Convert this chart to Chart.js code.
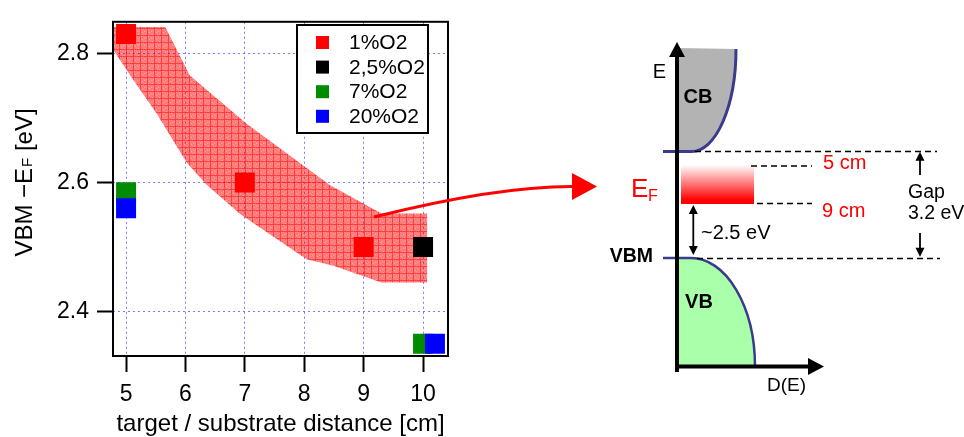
<!DOCTYPE html>
<html>
<head>
<meta charset="utf-8">
<script src="https://cdn.jsdelivr.net/npm/chart.js@4.4.0/dist/chart.umd.min.js"></script>
<style>
  html, body { margin: 0; padding: 0; background: #fff; }
</style>
</head>
<body>
<canvas id="vbm" width="964" height="437"></canvas>
<script>
// VBM - EF [eV] against target/substrate distance [cm], one series per O2 content
const seriesNames = ["1%O2", "2,5%O2", "7%O2", "20%O2"];
const seriesColors = ["#ff0000", "#000000", "#008c00", "#0000ff"];
const dist1 = [5, 7, 9];
const vbm1 = [2.83, 2.60, 2.50];
const dist25 = [10];
const vbm25 = [2.50];
const dist7 = [5, 10];
const vbm7 = [2.585, 2.35];
const dist20 = [5, 10.2];
const vbm20 = [2.56, 2.35];

// trend band, upper and lower edge
const bandUpperX = [4.78, 5.66, 6.07, 7.03, 8.43, 9.30, 10.07];
const bandUpperY = [2.841, 2.841, 2.766, 2.691, 2.596, 2.552, 2.552];
const bandLowerX = [4.78, 5.12, 5.52, 6.02, 6.36, 6.92, 7.48, 8.04, 8.49, 9.30, 10.07];
const bandLowerY = [2.806, 2.759, 2.706, 2.631, 2.596, 2.551, 2.516, 2.481, 2.471, 2.445, 2.445];

const xTicks = [5, 6, 7, 8, 9, 10];
const yTicks = [2.4, 2.6, 2.8];

const FONT = "'Liberation Sans', Arial, sans-serif";

function pts(xs, ys) {
  return xs.map((x, i) => ({ x: x, y: ys[i] }));
}

// pink cross-hatch for the band
function bandPattern() {
  const c = document.createElement('canvas');
  c.width = 7; c.height = 7;
  const g = c.getContext('2d');
  g.fillStyle = 'rgba(255,0,0,0.5)';
  g.fillRect(0, 0, 7, 7);
  for (let i = 0; i < 7; i++) {
    for (let j = 0; j < 7; j++) {
      if ((i * 3 + j * 5) % 4 === 0) { g.fillStyle = 'rgba(255,0,0,0.12)'; g.fillRect(i, j, 1, 1); }
      if ((i * 5 + j * 3) % 7 === 1) { g.fillStyle = 'rgba(255,255,255,0.25)'; g.fillRect(i, j, 1, 1); }
    }
  }
  g.fillStyle = 'rgba(255,0,0,0.5)';
  g.fillRect(0, 0, 7, 1);
  g.fillRect(0, 1, 1, 6);
  return g.createPattern(c, 'repeat');
}

function arrowHead(ctx, tx, ty, dx, dy, len, half) {
  // tip at (tx,ty), pointing along (dx,dy)
  const px = -dy, py = dx;
  ctx.beginPath();
  ctx.moveTo(tx, ty);
  ctx.lineTo(tx - dx * len + px * half, ty - dy * len + py * half);
  ctx.lineTo(tx - dx * len - px * half, ty - dy * len - py * half);
  ctx.closePath();
  ctx.fill();
}

function dashed(ctx, x1, x2, y) {
  ctx.save();
  ctx.strokeStyle = '#000';
  ctx.lineWidth = 1.6;
  ctx.setLineDash([6, 4]);
  ctx.beginPath();
  ctx.moveTo(x1, y); ctx.lineTo(x2, y);
  ctx.stroke();
  ctx.restore();
}

const extras = {
  id: 'extras',
  afterDatasetsDraw(chart) {
    const ctx = chart.ctx;
    const a = chart.chartArea;
    ctx.save();
    // frame
    ctx.strokeStyle = '#000';
    ctx.lineWidth = 2;
    ctx.strokeRect(a.left, a.top, a.right - a.left, a.bottom - a.top);

    // legend
    ctx.fillStyle = '#fff';
    ctx.fillRect(297, 25, 131, 108);
    ctx.strokeRect(297, 25, 131, 108);
    ctx.font = '21px ' + FONT;
    ctx.textBaseline = 'middle';
    ctx.textAlign = 'left';
    seriesNames.forEach((name, i) => {
      const y = 42.5 + i * 24.6;
      ctx.fillStyle = seriesColors[i];
      ctx.fillRect(316, y - 6.5, 13, 13);
      ctx.fillStyle = '#000';
      ctx.fillText(name, 349, y + 1);
    });

    // y axis title with subscript F
    ctx.save();
    ctx.translate(32, 183);
    ctx.rotate(-Math.PI / 2);
    ctx.textBaseline = 'alphabetic';
    ctx.fillStyle = '#000';
    const big = '24px ' + FONT, small = '15px ' + FONT;
    const p1 = 'VBM \u2212E', p2 = 'F', p3 = ' [eV]';
    ctx.font = big; const w1 = ctx.measureText(p1).width, w3 = ctx.measureText(p3).width;
    ctx.font = small; const w2 = ctx.measureText(p2).width;
    let x = -(w1 + w2 + w3) / 2;
    ctx.font = big; ctx.fillText(p1, x, 0); x += w1;
    ctx.font = small; ctx.fillText(p2, x + 1, 0); x += w2 + 1;
    ctx.font = big; ctx.fillText(p3, x, 0);
    ctx.restore();
    ctx.restore();
  },
  afterDraw(chart) {
    const ctx = chart.ctx;
    ctx.save();
    const edge = '#3b3b8e';

    // CB region
    ctx.fillStyle = '#b3b3b3';
    ctx.beginPath();
    ctx.moveTo(677, 48);
    ctx.lineTo(736, 49);
    ctx.ellipse(691.7, 49, 44.3, 102.5, 0, 0, Math.PI / 2);
    ctx.lineTo(677, 151.5);
    ctx.closePath();
    ctx.fill();
    ctx.strokeStyle = edge;
    ctx.beginPath();
    ctx.ellipse(691.7, 49, 44.3, 102.5, 0, 0, Math.PI / 2);
    ctx.lineTo(663, 151.5);
    ctx.lineWidth = 3;
    ctx.stroke();

    // VB region
    ctx.fillStyle = '#aaffaa';
    ctx.beginPath();
    ctx.moveTo(677, 258);
    ctx.lineTo(691, 258);
    ctx.ellipse(691, 366.5, 64, 108.5, 0, -Math.PI / 2, 0);
    ctx.lineTo(677, 366.5);
    ctx.closePath();
    ctx.fill();
    ctx.beginPath();
    ctx.moveTo(663, 258);
    ctx.lineTo(691, 258);
    ctx.ellipse(691, 366.5, 64, 108.5, 0, -Math.PI / 2, 0);
    ctx.lineWidth = 2.5;
    ctx.stroke();

    // Fermi level range
    const grad = ctx.createLinearGradient(0, 165, 0, 204);
    grad.addColorStop(0, '#ffffff');
    grad.addColorStop(0.9, '#ff0000');
    grad.addColorStop(1, '#ff0000');
    ctx.fillStyle = grad;
    ctx.fillRect(681, 165, 73, 39);

    // dashed levels
    dashed(ctx, 695, 937, 151.5);
    dashed(ctx, 697, 940, 258.5);
    dashed(ctx, 751, 812, 166);
    dashed(ctx, 757, 812, 203.5);

    // axes
    ctx.strokeStyle = '#000';
    ctx.fillStyle = '#000';
    ctx.lineWidth = 4;
    ctx.beginPath();
    ctx.moveTo(677, 372); ctx.lineTo(677, 55);
    ctx.moveTo(675, 366.5); ctx.lineTo(810, 366.5);
    ctx.stroke();
    arrowHead(ctx, 677, 42, 0, -1, 15, 8);
    arrowHead(ctx, 824, 366.5, 1, 0, 16, 8.5);

    // ~2.5 eV and gap arrows
    ctx.lineWidth = 1.8;
    ctx.beginPath();
    ctx.moveTo(693.3, 210); ctx.lineTo(693.3, 250);
    ctx.moveTo(920, 175); ctx.lineTo(920, 158);
    ctx.moveTo(920, 233); ctx.lineTo(920, 250);
    ctx.stroke();
    arrowHead(ctx, 693.3, 205, 0, -1, 9, 4.5);
    arrowHead(ctx, 693.3, 255, 0, 1, 9, 4.5);
    arrowHead(ctx, 920, 151.7, 0, -1, 9, 4.5);
    arrowHead(ctx, 920, 256.7, 0, 1, 9, 4.5);

    // diagram labels
    ctx.textBaseline = 'middle';
    ctx.textAlign = 'center';
    ctx.fillStyle = '#000';
    ctx.font = '20px ' + FONT;
    ctx.fillText('E', 659.5, 72);
    ctx.textAlign = 'left';
    ctx.font = '19px ' + FONT;
    ctx.fillText('D(E)', 767, 385.5);
    ctx.font = '20px ' + FONT;
    ctx.fillText('~2.5 eV', 701, 233);
    ctx.font = '19.5px ' + FONT;
    ctx.fillText('Gap', 908, 193);
    ctx.fillText('3.2 eV', 908, 214);
    ctx.font = 'bold 20px ' + FONT;
    ctx.textAlign = 'center';
    ctx.fillText('CB', 698, 97.5);
    ctx.fillText('VB', 699, 302);
    ctx.font = 'bold 19.5px ' + FONT;
    ctx.textAlign = 'right';
    ctx.fillText('VBM', 653, 256.5);
    ctx.textAlign = 'left';
    ctx.fillStyle = '#ff0000';
    ctx.font = '20px ' + FONT;
    ctx.fillText('5 cm', 823, 163.5);
    ctx.fillText('9 cm', 822, 211.5);
    ctx.textBaseline = 'alphabetic';
    ctx.font = '26px ' + FONT;
    ctx.fillText('E', 631, 197);
    ctx.font = '16px ' + FONT;
    ctx.fillText('F', 648, 201);

    // red arrow from the 9-10 cm data to EF
    ctx.strokeStyle = '#ff0000';
    ctx.fillStyle = '#ff0000';
    ctx.lineWidth = 3;
    ctx.beginPath();
    ctx.moveTo(374, 217);
    ctx.quadraticCurveTo(498, 186, 574, 186.5);
    ctx.stroke();
    arrowHead(ctx, 597, 186.5, 1, 0, 25, 13.5);
    ctx.restore();
  }
};

const pointOpts = {
  type: 'line',
  showLine: false,
  pointStyle: 'rect',
  pointRadius: 14.14,
  pointHoverRadius: 14.14,
  pointBorderWidth: 0
};

new Chart(document.getElementById('vbm'), {
  type: 'line',
  data: {
    datasets: [
      Object.assign({ label: seriesNames[0], data: pts(dist1, vbm1), backgroundColor: seriesColors[0], borderColor: seriesColors[0], order: 4 }, pointOpts),
      Object.assign({ label: seriesNames[1], data: pts(dist25, vbm25), backgroundColor: seriesColors[1], borderColor: seriesColors[1], order: 3 }, pointOpts),
      Object.assign({ label: seriesNames[2], data: pts(dist7, vbm7), backgroundColor: seriesColors[2], borderColor: seriesColors[2], order: 2 }, pointOpts),
      Object.assign({ label: seriesNames[3], data: pts(dist20, vbm20), backgroundColor: seriesColors[3], borderColor: seriesColors[3], order: 1 }, pointOpts),
      {
        label: 'band upper',
        data: pts(bandUpperX, bandUpperY),
        fill: '+1',
        backgroundColor: bandPattern(),
        borderWidth: 0,
        pointRadius: 0,
        tension: 0,
        order: 10
      },
      {
        label: 'band lower',
        data: pts(bandLowerX, bandLowerY),
        fill: false,
        borderWidth: 0,
        pointRadius: 0,
        tension: 0,
        order: 11
      }
    ]
  },
  options: {
    responsive: false,
    animation: false,
    devicePixelRatio: 1,
    layout: { padding: { left: 0, top: 12, right: 516, bottom: 0 } },
    plugins: {
      legend: { display: false },
      tooltip: { enabled: false }
    },
    scales: {
      x: {
        type: 'linear',
        min: 4.78,
        max: 10.42,
        afterBuildTicks: s => { s.ticks = xTicks.map(v => ({ value: v })); },
        afterFit: s => { s.height = 81; },
        grid: {
          color: 'rgba(90,90,255,0.8)',
          lineWidth: 1,
          tickColor: '#000',
          tickWidth: 2,
          tickLength: 16,
          tickBorderDash: []
        },
        border: { display: false, dash: [2, 3] },
        ticks: {
          color: '#000',
          font: { family: FONT, size: 23 },
          padding: 9,
          maxRotation: 0,
          callback: v => String(v)
        },
        title: {
          display: true,
          text: 'target / substrate distance [cm]',
          color: '#000',
          font: { family: FONT, size: 24 },
          padding: { top: 0, bottom: -2 }
        }
      },
      y: {
        type: 'linear',
        min: 2.331,
        max: 2.849,
        afterBuildTicks: s => { s.ticks = yTicks.map(v => ({ value: v })); },
        afterFit: s => { s.width = 113; },
        grid: {
          color: 'rgba(90,90,255,0.8)',
          lineWidth: 1,
          tickColor: '#000',
          tickWidth: 2,
          tickLength: 16,
          tickBorderDash: []
        },
        border: { display: false, dash: [2, 3] },
        ticks: {
          color: '#000',
          font: { family: FONT, size: 23 },
          padding: 8,
          callback: v => v.toFixed(1)
        }
      }
    }
  },
  plugins: [extras]
});
</script>
</body>
</html>
